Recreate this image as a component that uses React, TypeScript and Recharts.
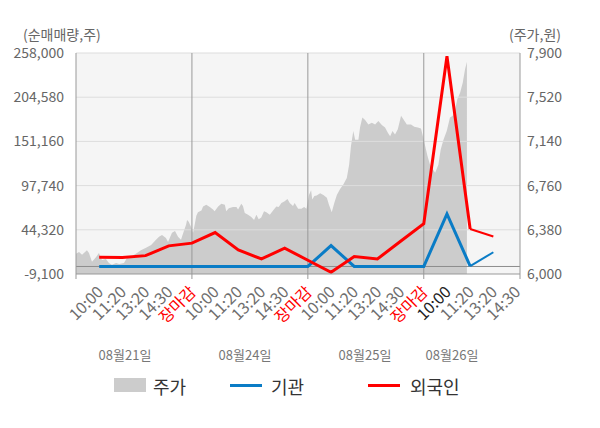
import React from 'react';
import { ComposedChart, Area, Line, XAxis, YAxis, CartesianGrid, ReferenceLine } from 'recharts';

// x positions are trading slots: 0 = open of 08/21, 5 = close, 10:00 of next day = 6 ...
const slotLabels = [
  '', '10:00', '11:20', '13:20', '14:30', '장마감',
  '10:00', '11:20', '13:20', '14:30', '장마감',
  '10:00', '11:20', '13:20', '14:30', '장마감',
  '10:00', '11:20', '13:20', '14:30',
];
const dayLabels = ['08월21일', '08월24일', '08월25일', '08월26일'];

const lineSlots = [1, 2, 3, 4, 5, 6, 7, 8, 9, 10, 11, 12, 13, 14, 15, 16, 17, 18];
const foreignNet = [11200, 10900, 13100, 24900, 28200, 41000, 20000, 9100, 22100, 7500, -7000, 11900, 9100, 30400, 51600, 254000, 45200, 36200];
const instNet = [0, 0, 0, 0, 0, 0, 0, 0, 0, 0, 25200, 0, 0, 0, 0, 63400, 500, 17200];

const pricePos = [
  0, 0.13, 0.26, 0.39, 0.47, 0.56, 0.69, 0.86, 0.99, 1.12, 1.29, 1.42, 1.55, 1.73, 1.86, 2.07, 2.2, 2.42, 2.63, 2.8,
  3.02, 3.24, 3.45, 3.58, 3.71, 3.88, 3.97, 4.14, 4.27, 4.4, 4.53, 4.57, 4.75, 4.79, 4.86, 4.95, 5.05, 5.12, 5.19, 5.26,
  5.41, 5.48, 5.62, 5.77, 5.91, 5.98, 6.13, 6.27, 6.42, 6.48, 6.59, 6.77, 6.92, 6.99, 7.13, 7.2, 7.28, 7.42, 7.56, 7.68,
  7.78, 7.88, 7.99, 8.11, 8.21, 8.36, 8.5, 8.64, 8.74, 8.86, 9.0, 9.12, 9.22, 9.36, 9.43, 9.58, 9.72, 9.84, 9.94, 10.05,
  10.14, 10.19, 10.28, 10.38, 10.53, 10.67, 10.82, 10.91, 11.03, 11.14, 11.25, 11.39, 11.53, 11.68, 11.78, 11.86, 11.96, 12.04, 12.18, 12.25,
  12.35, 12.47, 12.61, 12.76, 12.9, 13.04, 13.19, 13.33, 13.45, 13.55, 13.65, 13.76, 13.88, 14.02, 14.12, 14.27, 14.45, 14.59, 14.74, 14.88,
  14.98, 15.06, 15.16, 15.27, 15.39, 15.49, 15.63, 15.73, 15.85, 15.99, 16.13, 16.25, 16.35, 16.45, 16.57, 16.68, 16.78, 16.86,
];
const priceVal = [
  6175, 6190, 6165, 6190, 6205, 6180, 6105, 6145, 6180, 6120, 6130, 6095, 6080, 6095, 6085, 6095, 6140, 6155, 6180, 6205,
  6225, 6250, 6295, 6320, 6335, 6310, 6275, 6355, 6370, 6320, 6295, 6320, 6425, 6465, 6450, 6410, 6355, 6425, 6500, 6530,
  6545, 6580, 6595, 6575, 6555, 6540, 6580, 6605, 6595, 6540, 6565, 6575, 6575, 6555, 6605, 6585, 6525, 6510, 6490, 6465,
  6510, 6470, 6485, 6540, 6530, 6510, 6545, 6580, 6575, 6610, 6625, 6645, 6610, 6585, 6610, 6560, 6560, 6575, 6560, 6680,
  6720, 6640, 6670, 6675, 6695, 6680, 6655, 6595, 6530, 6610, 6680, 6730, 6770, 6825, 6940, 7100, 7230, 7155, 7155, 7260,
  7345, 7325, 7285, 7300, 7285, 7315, 7280, 7260, 7215, 7185, 7230, 7200, 7245, 7360, 7330, 7285, 7285, 7265, 7260, 7250,
  7170, 7100, 7015, 6940, 6900, 6870, 6940, 7070, 7155, 7230, 7345, 7360, 7415, 7505, 7560, 7645, 7760, 7825,
];

const leftTicks = [-9100, 44320, 97740, 151160, 204580, 258000];
const rightTicks = [6000, 6380, 6760, 7140, 7520, 7900];
const dayBreaks = [5, 10, 15];
const xEnd = 19.15;

const priceData = pricePos.map((x, i) => ({ x, price: priceVal[i] }));
const lineData = lineSlots.map((x, i) => ({ x, foreign: foreignNet[i], inst: instNet[i] }));
const mainLine = lineData.slice(0, 17);
const tailLine = lineData.slice(16);

const FONT = '"Noto Sans CJK KR", "Noto Sans", sans-serif';
const fmt = (v: number) => v.toLocaleString('en-US');

const XTick = (props: any) => {
  const { x, y, payload } = props;
  const v = payload.value;
  const label = slotLabels[v] || '';
  const isBoundary = v === 0 || dayBreaks.includes(v) || v === xEnd;
  let color = '#6e6e6e';
  if (label === '장마감') color = '#ff0000';
  if (v === 16) color = '#222';
  return (
    <g>
      {isBoundary && <line x1={x} y1={y} x2={x} y2={y + 5} stroke="#999" />}
      {label && (
        <text
          x={0}
          y={0}
          transform={`translate(${x + 5},${y + 19}) rotate(-45)`}
          textAnchor="end"
          fill={color}
          fontSize={16}
          fontFamily={FONT}
        >
          {label}
        </text>
      )}
    </g>
  );
};

export default function App() {
  return (
    <div style={{ position: 'fixed', left: 0, top: 0, width: 600, height: 428, background: '#fff', fontFamily: FONT }}>
      <ComposedChart width={600} height={428} margin={{ top: 53, right: 20, bottom: 94, left: 16 }}>
        <CartesianGrid fill="#f5f5f5" horizontal={false} vertical={false} />
        <XAxis
          dataKey="x"
          type="number"
          domain={[0, xEnd]}
          ticks={[...slotLabels.map((_, i) => i), xEnd]}
          interval={0}
          height={60}
          tickLine={false}
          tickSize={0}
          tickMargin={0}
          axisLine={{ stroke: '#999' }}
          tick={<XTick />}
          allowDataOverflow
        />
        <YAxis
          yAxisId="left"
          orientation="left"
          width={60}
          domain={[-9100, 258000]}
          ticks={leftTicks}
          interval={0}
          tickFormatter={fmt}
          tickLine={false}
          tickSize={0}
          tickMargin={12}
          axisLine={{ stroke: '#999' }}
          tick={{ fill: '#666', fontSize: 14, fontFamily: FONT }}
        />
        <YAxis
          yAxisId="right"
          orientation="right"
          width={60}
          domain={[6000, 7900]}
          ticks={rightTicks}
          interval={0}
          tickFormatter={fmt}
          tickLine={false}
          tickSize={0}
          tickMargin={7}
          axisLine={{ stroke: '#999' }}
          tick={{ fill: '#666', fontSize: 14, fontFamily: FONT, textAnchor: 'start' }}
        />
        <Area
          yAxisId="right"
          data={priceData}
          dataKey="price"
          type="linear"
          stroke="none"
          fill="#cccccc"
          fillOpacity={1}
          isAnimationActive={false}
        />
        {leftTicks.slice(1).map((t) => (
          <ReferenceLine key={t} yAxisId="left" y={t} stroke="#dddddd" />
        ))}
        {dayBreaks.map((d) => (
          <ReferenceLine key={d} yAxisId="left" x={d} stroke="#999" />
        ))}
        <ReferenceLine yAxisId="left" y={0} stroke="#8c8c8c" />
        <Line
          yAxisId="left"
          data={mainLine}
          dataKey="inst"
          type="linear"
          stroke="#0a7cc6"
          strokeWidth={3}
          dot={false}
          isAnimationActive={false}
        />
        <Line
          yAxisId="left"
          data={tailLine}
          dataKey="inst"
          type="linear"
          stroke="#0a7cc6"
          strokeWidth={2}
          dot={false}
          isAnimationActive={false}
        />
        <Line
          yAxisId="left"
          data={mainLine}
          dataKey="foreign"
          type="linear"
          stroke="#ff0000"
          strokeWidth={3}
          dot={false}
          isAnimationActive={false}
        />
        <Line
          yAxisId="left"
          data={tailLine}
          dataKey="foreign"
          type="linear"
          stroke="#ff0000"
          strokeWidth={2}
          dot={false}
          isAnimationActive={false}
        />
      </ComposedChart>

      <div style={{ position: 'absolute', left: 23, top: 24, fontSize: 14, color: '#666' }}>(순매매량,주)</div>
      <div style={{ position: 'absolute', left: 509, top: 24, fontSize: 14, color: '#666' }}>(주가,원)</div>

      {dayLabels.map((d, i) => (
        <div
          key={d}
          style={{
            position: 'absolute',
            left: [125, 245, 365, 452][i] - 40,
            width: 80,
            top: 345,
            textAlign: 'center',
            fontSize: 13,
            color: '#777',
          }}
        >
          {d}
        </div>
      ))}

      <div style={{ position: 'absolute', left: 114, top: 378, width: 32, height: 14, background: '#cccccc' }} />
      <div style={{ position: 'absolute', left: 153, top: 373, fontSize: 18, color: '#333' }}>주가</div>
      <div style={{ position: 'absolute', left: 230, top: 384, width: 32, height: 3, background: '#0a7cc6' }} />
      <div style={{ position: 'absolute', left: 271, top: 373, fontSize: 18, color: '#333' }}>기관</div>
      <div style={{ position: 'absolute', left: 368, top: 384, width: 32, height: 3, background: '#ff0000' }} />
      <div style={{ position: 'absolute', left: 410, top: 373, fontSize: 18, color: '#333' }}>외국인</div>
    </div>
  );
}
